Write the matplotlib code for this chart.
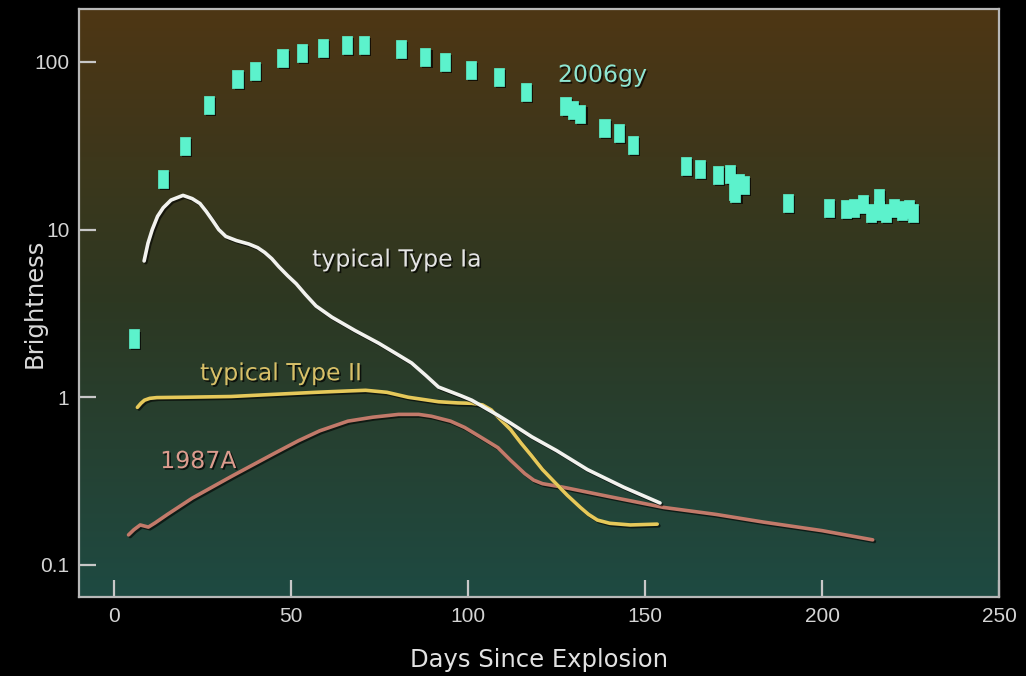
import matplotlib
matplotlib.use("Agg")
import matplotlib.pyplot as plt
import matplotlib.patheffects as pe
import matplotlib.ticker as ticker
import numpy as np

# SN 2006gy photometry (days, relative brightness)
sn2006gy_days = [5.6, 13.7, 20.0, 26.7, 34.8, 39.8, 47.5, 53.1, 59.0, 65.7, 70.5,
                 80.9, 87.9, 93.5, 100.8, 108.7, 116.3, 127.5, 129.5, 131.7,
                 138.5, 142.7, 146.6, 161.5, 165.4, 170.5, 174.0, 175.0, 175.5,
                 176.5, 178.0, 190.4, 202.0, 206.7, 209.0, 211.5, 213.8, 216.0,
                 216.0, 218.0, 220.2, 222.7, 224.5, 225.6]
sn2006gy_vals = [2.24, 20.1, 31.6, 55.5, 79.0, 88.0, 105.6, 113.0, 121.0, 126.0, 126.0,
                 119.5, 107.0, 100.0, 89.6, 81.4, 66.3, 54.7, 51.8, 49.0,
                 40.5, 37.8, 32.0, 24.0, 23.1, 21.3, 21.5, 17.0, 16.5,
                 19.0, 18.5, 14.5, 13.5, 13.3, 13.5, 14.3, 12.6, 15.5,
                 13.0, 12.6, 13.5, 13.0, 13.3, 12.6]

# typical Type Ia light curve
ia_days = [8.4, 9.5, 10.7, 12.2, 13.8, 16.0, 19.4, 22.0, 24.2, 26.0, 27.8, 29.5,
           31.5, 34.5, 38.0, 40.5, 42.5, 44.5, 46.5, 49.0, 51.4, 54.0, 57.0, 61.5,
           68.0, 74.7, 80.0, 84.0, 88.0, 91.6, 98.0, 101.0, 108.4, 112.0, 118.0,
           125.0, 133.7, 144.0, 154.2]
ia_vals = [6.5, 8.3, 10.0, 12.0, 13.5, 15.0, 16.0, 15.3, 14.3, 12.8, 11.3, 10.0,
           9.1, 8.6, 8.2, 7.8, 7.3, 6.7, 6.0, 5.3, 4.75, 4.1, 3.5, 3.0,
           2.5, 2.1, 1.8, 1.6, 1.35, 1.15, 1.02, 0.96, 0.78, 0.70, 0.58,
           0.48, 0.37, 0.29, 0.234]

# typical Type II light curve
ii_days = [6.5, 7.5, 8.5, 10.0, 12.0, 20.0, 33.0, 45.0, 57.0, 66.0, 71.0, 77.0,
           83.0, 91.6, 97.0, 101.0, 104.0, 106.5, 109.0, 112.0, 115.0, 117.8,
           121.0, 124.5, 128.0, 131.7, 134.0, 136.5, 140.0, 145.8, 153.4]
ii_vals = [0.87, 0.92, 0.96, 0.985, 0.995, 1.0, 1.01, 1.04, 1.07, 1.09, 1.1, 1.07,
           1.0, 0.94, 0.925, 0.92, 0.9, 0.84, 0.74, 0.64, 0.53, 0.45,
           0.37, 0.31, 0.26, 0.22, 0.2, 0.185, 0.177, 0.173, 0.175]

# SN 1987A light curve
a87_days = [4.0, 5.5, 7.3, 9.6, 11.5, 15.0, 22.0, 33.4, 45.0, 52.0, 58.0, 66.0,
            73.0, 80.3, 86.0, 89.6, 95.0, 99.0, 104.0, 108.4, 112.0, 116.0,
            118.5, 121.0, 127.0, 140.0, 155.3, 170.0, 183.4, 200.0, 214.3]
a87_vals = [0.151, 0.162, 0.173, 0.168, 0.178, 0.2, 0.25, 0.34, 0.46, 0.55, 0.63, 0.72,
            0.76, 0.79, 0.79, 0.77, 0.72, 0.66, 0.57, 0.5, 0.42, 0.35,
            0.32, 0.305, 0.29, 0.255, 0.22, 0.2, 0.18, 0.16, 0.141]

x_ticks = [0, 50, 100, 150, 200, 250]
y_ticks = [0.1, 1, 10, 100]
y_tick_labels = ["0.1", "1", "10", "100"]

fig = plt.figure(figsize=(10.26, 6.76), dpi=100, facecolor="black")
ax = fig.add_axes([0.077, 0.117, 0.8967, 0.8697])

# brown-to-teal backdrop
top = np.array([0x4e, 0x36, 0x14]) / 255
mid = np.array([0x2d, 0x38, 0x22]) / 255
bot = np.array([0x1e, 0x4a, 0x42]) / 255
t = np.linspace(0, 1, 256)[:, None]
grad = np.where(t < 0.5, top + (mid - top) * (t / 0.5), mid + (bot - mid) * ((t - 0.5) / 0.5))
ax.imshow(grad[:, None, :], extent=[0, 1, 0, 1], transform=ax.transAxes,
          aspect="auto", zorder=0, interpolation="bilinear")

shadow = [pe.SimpleLineShadow(offset=(1.2, -1.2), shadow_color="black", alpha=0.6), pe.Normal()]

ax.plot(a87_days, a87_vals, color="#c27a6a", lw=2.6, zorder=3, path_effects=shadow,
        solid_capstyle="round", solid_joinstyle="round")
ax.plot(ii_days, ii_vals, color="#e6c95a", lw=2.6, zorder=4, path_effects=shadow,
        solid_capstyle="round", solid_joinstyle="round")
ax.plot(ia_days, ia_vals, color="#f2f2ee", lw=2.6, zorder=5, path_effects=shadow,
        solid_capstyle="round", solid_joinstyle="round")

rect = [(-0.28, -0.5), (0.28, -0.5), (0.28, 0.5), (-0.28, 0.5), (-0.28, -0.5)]
ax.plot(sn2006gy_days, sn2006gy_vals, ls="none", marker=rect, markersize=13,
        markerfacecolor="#5cf2cc", markeredgecolor="#5cf2cc", markeredgewidth=0.5,
        zorder=6, path_effects=[pe.SimplePatchShadow(offset=(1.5, -1.5), shadow_rgbFace="black",
                                                     alpha=0.7), pe.Normal()])

# curve names
txt_shadow = [pe.withSimplePatchShadow(offset=(1.2, -1.2), shadow_rgbFace="black", alpha=0.7)]
ax.text(137.9, 83.7, "2006gy", color="#8fe6d2", fontsize=17, family="DejaVu Sans",
        ha="center", va="center", zorder=7, path_effects=txt_shadow)
ax.text(79.9, 6.63, "typical Type Ia", color="#e4e4e4", fontsize=17, family="DejaVu Sans",
        ha="center", va="center", zorder=7, path_effects=txt_shadow)
ax.text(47.2, 1.39, "typical Type II", color="#d8c068", fontsize=17, family="DejaVu Sans",
        ha="center", va="center", zorder=7, path_effects=txt_shadow)
ax.text(23.7, 0.416, "1987A", color="#dc9c8e", fontsize=17, family="DejaVu Sans",
        ha="center", va="center", zorder=7, path_effects=txt_shadow)

ax.set_yscale("log")
ax.set_xlim(-10, 250)
ax.set_ylim(0.0644, 207)
ax.xaxis.set_major_locator(ticker.FixedLocator(x_ticks))
ax.yaxis.set_major_locator(ticker.FixedLocator(y_ticks))
ax.yaxis.set_major_formatter(ticker.FixedFormatter(y_tick_labels))
ax.yaxis.set_minor_locator(ticker.NullLocator())

ax.tick_params(axis="both", direction="in", length=12, width=1.6, color="#c8c8c8",
               labelcolor="#d4d4d4", labelsize=15, pad=7)
for lab in ax.get_xticklabels() + ax.get_yticklabels():
    lab.set_family("Liberation Sans")
for sp in ax.spines.values():
    sp.set_color("#b8b8b8")
    sp.set_linewidth(1.6)

ax.set_xlabel("Days Since Explosion", color="#e2e2e2", fontsize=17.5,
              family="DejaVu Sans", va="center")
ax.set_ylabel("Brightness", color="#dadada", fontsize=17.5,
              family="DejaVu Sans", va="center")
ax.xaxis.set_label_coords(0.5, -0.107)
ax.yaxis.set_label_coords(-0.048, 0.5)

fig.savefig("out.png", dpi=100, facecolor="black")
